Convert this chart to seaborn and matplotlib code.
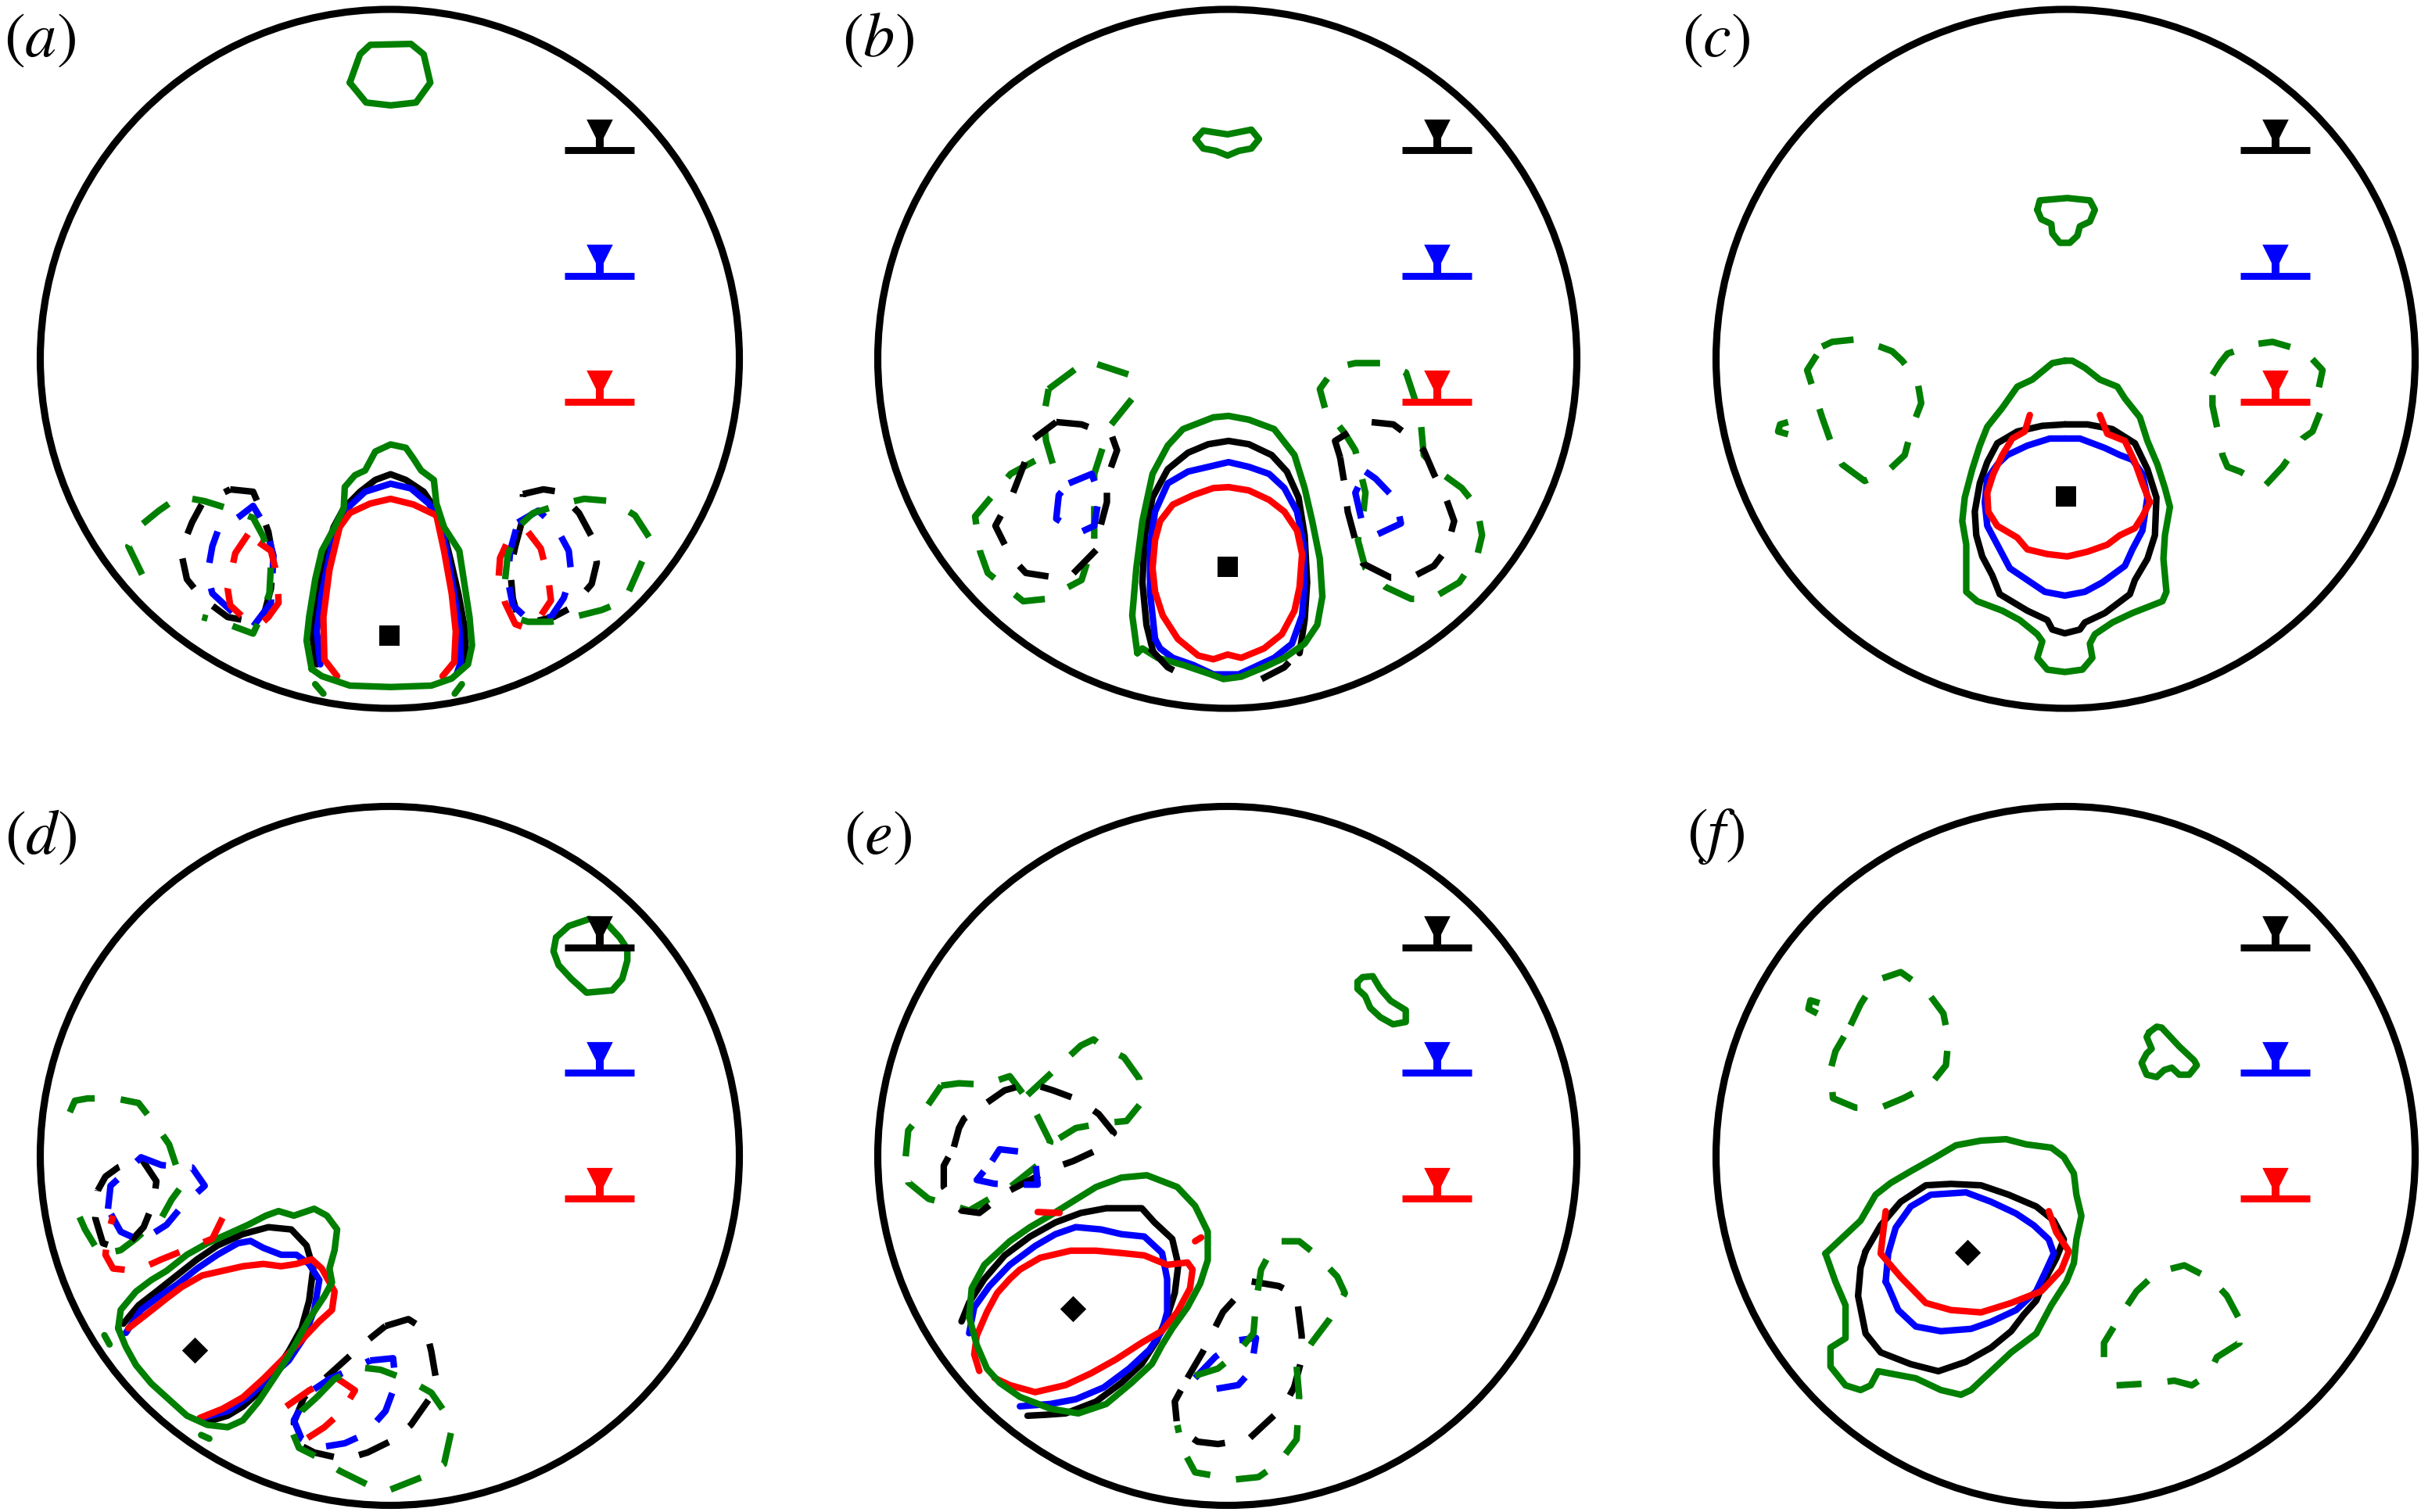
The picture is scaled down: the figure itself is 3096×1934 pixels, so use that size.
import numpy as np
import matplotlib
matplotlib.use("Agg")
import matplotlib.pyplot as plt
import seaborn as sns
from matplotlib.patches import Circle

# ---------------------------------------------------------------------------
# Digitised contour data.  Each panel has a calibration frame (centre x,
# centre y, half-width, half-height of the pipe wall in digitising units);
# contour vertices are given in the same units and converted to y/R, z/R.
# ---------------------------------------------------------------------------
PANEL_LABELS = ["a", "b", "c", "d", "e", "f"]
LEVEL_COLORS = ["black", "blue", "red"]          # water-level symbols
LEVEL_HEIGHTS = [0.597, 0.238, -0.122]            # z/R of the symbols
LEVEL_SPAN = [0.50, 0.70]                         # y/R extent of the symbols
CENTRE_MARKERS = ["s", "s", "s", "D", "D", "D"]
CENTRE_Y = [0.0, 0.0, 0.0, -0.559, -0.441, -0.281]
CENTRE_Z = [-0.793, -0.595, -0.394, -0.557, -0.437, -0.276]

# ---------------- panel (a)
FRAME_A = (758.5, 754, 686.5, 739)
A_BLOB = [(680,170),(700,110),(720,90),(800,88),(825,110),(838,170),(810,212),(760,218),(712,212)]
A_GREEN = [(605,1410),(595,1350),(600,1300),(612,1220),(625,1160),(650,1110),(668,1070),(670,1025),
           (690,1000),(710,990),(730,950),(760,935),(790,942),(805,965),(820,990),(845,1010),(850,1060),
           (865,1110),(895,1160),(905,1230),(915,1300),(920,1360),(912,1400),(880,1430),(840,1445),
           (760,1448),(680,1445),(625,1425)]
A_BLACK = [(615,1400),(605,1330),(615,1250),(632,1170),(648,1110),(668,1070),(700,1035),(730,1010),
           (760,998),(790,1010),(825,1035),(850,1075),(862,1110),(878,1180),(893,1250),(905,1320),
           (908,1390),(895,1415)]
A_BLUE = [(622,1400),(615,1330),(625,1250),(640,1170),(655,1110),(680,1065),(710,1035),(760,1018),
          (800,1028),(835,1060),(858,1100),(872,1170),(885,1250),(895,1320),(898,1395),(890,1420)]
A_RED = [(655,1425),(630,1390),(628,1300),(640,1200),(660,1110),(680,1080),(720,1060),(760,1050),
         (805,1062),(850,1085),(865,1160),(880,1250),(888,1330),(885,1395),(862,1425)]
A_DBLACK_L = [(445,1030),(490,1035),(500,1060),(520,1120),(530,1180),(525,1240),(510,1300),(490,1310),
              (440,1300),(390,1260),(360,1220),(348,1160),(370,1100),(390,1060)]
A_DBLUE_L = [(460,1090),(490,1065),(515,1110),(530,1170),(525,1270),(490,1320),(460,1300),(410,1250),
             (400,1210),(410,1150),(425,1105)]
A_DRED_L = [(480,1125),(455,1165),(440,1240),(445,1275),(480,1310),(505,1315),(520,1300),(540,1270),
            (538,1215),(525,1160),(505,1145)]
A_DGREEN_L = [(272,1210),(245,1150),(265,1110),(305,1075),(345,1045),(395,1055),(440,1070),(490,1090),
              (510,1130),(525,1190),(522,1250),(505,1300),(490,1335),(440,1315),(390,1300)]
A_DBLACK_R = [(1020,1040),(1060,1030),(1090,1035),(1130,1080),(1155,1130),(1165,1185),(1155,1230),
              (1115,1280),(1080,1300),(1040,1310),(1010,1300),(1000,1260),(995,1200),(1005,1150),(1020,1090)]
A_DBLUE_R = [(1010,1100),(1050,1075),(1085,1110),(1110,1160),(1115,1210),(1100,1260),(1075,1300),
             (1030,1305),(1000,1275),(990,1220),(995,1160)]
A_DRED_R = [(1030,1120),(1055,1155),(1070,1220),(1075,1265),(1050,1305),(1030,1325),(1005,1315),
            (985,1270),(972,1220),(975,1175),(990,1140)]
A_DGREEN_R = [(985,1220),(990,1170),(1010,1110),(1040,1080),(1100,1060),(1140,1050),(1195,1055),
              (1240,1085),(1270,1135),(1255,1180),(1220,1265),(1175,1285),(1120,1300),(1075,1310),
              (1030,1310),(1000,1300)]
A_DGREEN_B1 = [(612,1442),(628,1462)]
A_DGREEN_B2 = [(900,1442),(886,1462)]

# ---------------- panel (b)
FRAME_B = (807.5, 756, 689.5, 741)
B_BLOB = [(745,290),(760,272),(808,280),(855,270),(870,290),(855,310),(830,315),(808,325),(785,315),(760,310)]
B_GREEN = [(630,1380),(620,1300),(628,1200),(640,1100),(660,1000),(690,940),(720,905),(780,880),(810,877),
           (850,885),(900,905),(940,960),(960,1030),(975,1100),(990,1180),(995,1260),(985,1320),(960,1360),
           (920,1390),(880,1410),(835,1430),(800,1435),(775,1425),(720,1405),(670,1390),(640,1370)]
B_BLACK = [(663,1385),(648,1320),(640,1230),(645,1130),(660,1050),(690,990),(730,955),(770,937),(810,930),
           (850,937),(895,960),(925,995),(948,1050),(960,1130),(965,1230),(960,1310),(950,1380)]
B_BLUE = [(665,1350),(655,1250),(655,1150),(665,1080),(690,1020),(730,995),(770,985),(810,975),(850,985),
          (890,1000),(920,1030),(945,1080),(958,1150),(960,1230),(955,1300),(935,1360),(900,1390),
          (860,1410),(830,1425),(780,1425),(740,1405),(700,1390),(675,1370)]
B_RED = [(660,1200),(665,1140),(675,1100),(700,1065),(740,1045),(780,1030),(810,1028),(850,1035),
         (890,1055),(920,1080),(945,1120),(955,1170),(950,1240),(940,1290),(915,1340),(880,1370),
         (835,1390),(808,1383),(780,1393),(750,1385),(710,1350),(680,1300),(665,1250)]
B_DBLACK_B1 = [(655,1370),(690,1410),(735,1435)]
B_DBLACK_B2 = [(875,1435),(920,1410),(955,1370)]
B_DGREEN_L = [(455,820),(530,760),(615,790),(620,840),(575,900),(545,1000),(545,1140),(520,1225),
              (450,1265),(405,1270),(335,1210),(320,1165),(310,1090),(380,1000),(440,965),(465,985),
              (450,930),(445,880)]
B_DBLACK_L = [(470,890),(520,895),(580,920),(590,950),(570,1010),(570,1060),(555,1120),(550,1160),
              (500,1215),(470,1220),(410,1210),(380,1175),(350,1110),(385,1040),(410,970),(420,930)]
B_DBLUE_L = [(495,1020),(540,1000),(555,1045),(545,1110),(515,1125),(470,1095),(475,1045)]
B_DGREEN_R = [(1000,860),(990,820),(1020,775),(1060,765),(1120,765),(1160,785),(1180,850),(1190,900),
              (1195,960),(1225,995),(1270,1030),(1300,1070),(1310,1130),(1300,1175),(1265,1230),
              (1210,1265),(1170,1265),(1120,1240),(1080,1200),(1065,1140),(1075,1090),(1080,1040),
              (1060,950),(1040,915)]
B_DBLACK_R = [(1030,965),(1020,930),(1050,910),(1090,890),(1135,895),(1160,915),(1195,950),(1215,1000),
              (1240,1055),(1255,1100),(1240,1160),(1215,1195),(1170,1220),(1130,1220),(1075,1190),
              (1060,1140),(1045,1080),(1040,1030)]
B_DBLUE_R = [(1080,995),(1100,1010),(1140,1055),(1150,1105),(1100,1130),(1075,1110),(1060,1040)]

# ---------------- panel (c)
FRAME_C = (866.5, 756, 698.5, 741)
C_BLOB = [(810,440),(815,420),(870,415),(915,420),(925,440),(915,465),(895,475),(890,495),(875,510),
          (855,510),(840,490),(838,470),(818,460)]
C_GREEN = [(865,760),(840,765),(800,800),(770,815),(740,860),(710,900),(695,940),(680,990),(665,1050),
           (660,1100),(668,1150),(668,1250),(690,1270),(740,1290),(775,1310),(810,1340),(820,1355),
           (810,1390),(830,1415),(865,1420),(900,1415),(920,1390),(915,1360),(925,1340),(960,1315),
           (1000,1295),(1060,1270),(1068,1250),(1062,1180),(1065,1130),(1075,1070),(1065,1030),
           (1050,980),(1030,930),(1015,880),(985,840),(970,815),(935,800),(905,775),(880,760)]
C_BLACK = [(865,895),(820,898),(770,910),(730,935),(710,975),(695,1020),(685,1080),(688,1130),(700,1175),
           (720,1215),(735,1255),(790,1290),(830,1310),(840,1330),(865,1338),(895,1330),(905,1315),
           (945,1295),(995,1255),(1005,1225),(1030,1180),(1045,1130),(1048,1050),(1030,990),(1005,935),
           (960,905),(910,895)]
C_BLUE = [(865,925),(835,925),(790,940),(750,960),(730,980),(710,1010),(705,1060),(710,1110),(730,1150),
          (755,1200),(790,1225),(825,1250),(865,1258),(905,1250),(940,1230),(985,1195),(1000,1160),
          (1020,1120),(1030,1050),(1020,1000),(1000,970),(975,960),(945,945),(895,925)]
C_RED = [(795,875),(785,910),(760,925),(740,960),(722,1000),(710,1040),(712,1080),(730,1110),(770,1135),
         (790,1160),(830,1170),(870,1175),(910,1165),(950,1150),(975,1130),(1005,1115),(1020,1090),
         (1035,1060),(1020,1020),(1005,975),(985,930),(950,915),(935,875)]
C_DGREEN_L = [(380,730),(400,720),(445,715),(495,730),(520,740),(540,760),(570,800),(578,850),(560,900),
              (545,960),(515,990),(465,1015),(420,980),(400,940),(380,880),(365,830),(350,780)]
C_DGREEN_HOOK = [(312,890),(296,895),(292,910),(312,916)]
C_DGREEN_R = [(1160,790),(1175,765),(1190,745),(1245,725),(1280,720),(1345,740),(1380,780),(1370,830),
              (1375,870),(1360,910),(1340,925),(1330,940),(1300,985),(1265,1025),(1215,995),(1190,985),
              (1180,960),(1170,905),(1160,855)]

# ---------------- panel (d)
FRAME_D = (758.5, 805, 686.5, 760)
D_BLOB = [(1085,330),(1110,305),(1150,290),(1185,300),(1210,330),(1225,355),(1225,380),(1215,420),
          (1195,445),(1145,450),(1115,420),(1090,390),(1080,360)]
D_GREEN = [(225,1180),(230,1140),(260,1100),(290,1075),(320,1055),(360,1020),(400,995),(440,975),
           (480,955),(515,935),(540,925),(570,935),(610,920),(635,935),(655,965),(650,1010),(640,1050),
           (645,1080),(630,1110),(600,1160),(580,1200),(560,1240),(530,1290),(500,1340),(470,1380),
           (440,1395),(400,1390),(360,1370),(330,1340),(290,1300),(260,1260),(240,1220)]
D_BLACK = [(235,1170),(265,1130),(300,1100),(340,1065),(380,1030),(420,1000),(470,975),(520,960),
           (565,965),(595,1000),(608,1050),(600,1120),(585,1180),(560,1230),(530,1280),(500,1320),
           (470,1350),(440,1370),(410,1380),(385,1378)]
D_BLUE = [(240,1190),(270,1140),(300,1115),(340,1085),(380,1050),(420,1020),(460,995),(485,990),(510,1005),
          (545,1020),(575,1020),(600,1040),(620,1075),(610,1140),(590,1200),(560,1250),(520,1290),
          (480,1330),(440,1360),(390,1375)]
D_RED = [(245,1180),(280,1150),(320,1115),(350,1090),(390,1065),(430,1055),(470,1045),(510,1040),
         (545,1045),(575,1040),(605,1030),(625,1050),(650,1100),(645,1140),(620,1165),(590,1200),
         (555,1240),(510,1290),(470,1330),(430,1355),(385,1375)]
D_DGREEN_UL = [(130,710),(140,685),(165,680),(220,680),(265,690),(300,740),(325,780),(340,830),(350,870),
               (330,900),(310,940),(280,965),(260,985),(230,1010),(190,1020),(160,965),(140,915)]
D_DBLACK_UL = [(185,880),(200,850),(225,830),(270,810),(300,860),(295,905),(275,960),(250,990),(225,1005),
               (195,995),(180,940)]
D_DBLUE_UL = [(205,920),(210,870),(230,850),(270,808),(310,825),(370,830),(395,870),(350,915),(320,955),
              (270,990),(230,970)]
D_DRED_UL = [(430,940),(410,985),(355,1010),(310,1030),(260,1055),(215,1050),(200,1020),(205,975),(215,935)]
D_DBLACK_LR = [(750,1175),(795,1160),(830,1185),(840,1230),(850,1295),(835,1335),(800,1390),(770,1420),
               (715,1450),(670,1465),(610,1450),(575,1430),(570,1385),(590,1330),(620,1300),(670,1250),
               (705,1215)]
D_DBLUE_LR = [(720,1250),(765,1245),(770,1300),(750,1360),(710,1410),(670,1430),(615,1440),(585,1420),
              (570,1380),(600,1320),(640,1290),(670,1275)]
D_DRED_LR = [(555,1350),(600,1315),(650,1285),(690,1315),(665,1360),(630,1395),(595,1420),(570,1410)]
D_DGREEN_LR = [(615,1330),(650,1290),(700,1265),(740,1270),(800,1295),(840,1320),(865,1360),(880,1400),
               (865,1475),(830,1500),(750,1535),(715,1520),(660,1490),(625,1465),(580,1440),(565,1400),
               (585,1360)]
D_DGREEN_B1 = [(198,1195),(208,1215)]
D_DGREEN_B2 = [(388,1412),(404,1420)]

# ---------------- panel (e)
FRAME_E = (808.5, 819, 688.5, 741)
E_BLOB = [(1065,450),(1075,440),(1095,438),(1110,465),(1130,490),(1160,510),(1160,535),(1135,540),
          (1110,525),(1090,505),(1080,480),(1065,465)]
E_GREEN = [(300,1160),(305,1100),(330,1050),(380,1000),(420,970),(460,945),(505,915),(550,885),(600,865),
           (650,860),(710,885),(745,925),(770,980),(770,1040),(755,1090),(730,1140),(700,1185),(680,1220),
           (660,1260),(620,1300),(570,1345),(515,1365),(460,1355),(400,1330),(360,1300),(335,1270),(315,1220)]
E_BLACK = [(285,1170),(300,1130),(330,1080),(370,1030),(420,990),(470,960),(520,940),(570,930),(640,930),
           (665,960),(700,995),(712,1050),(705,1110),(690,1160),(670,1210),(640,1260),(600,1300),
           (550,1340),(490,1365),(450,1368),(415,1370)]
E_BLUE = [(300,1195),(310,1140),(340,1095),(380,1050),(430,1010),(470,985),(510,970),(560,975),(600,985),
          (645,990),(680,1025),(690,1080),(690,1150),(680,1190),(655,1230),(615,1270),(565,1310),
          (510,1335),(460,1345),(400,1350)]
E_RED = [(320,1275),(310,1240),(315,1200),(335,1150),(355,1110),(380,1080),(400,1060),(440,1035),
         (500,1020),(550,1020),(600,1025),(645,1030),(690,1050),(730,1045),(740,1060),(735,1100),
         (710,1150),(680,1190),(640,1215),(590,1250),(540,1280),(490,1305),(430,1320),(380,1305),(350,1290)]
E_RED_BIT1 = [(435,938),(478,940)]
E_RED_BIT2 = [(745,1000),(757,992)]
E_DGREEN_L = [(245,670),(280,665),(330,668),(380,650),(415,700),(430,725),(460,790),(445,830),(410,860),
              (375,890),(340,910),(300,935),(270,925),(220,910),(180,875),(175,820),(180,765),(210,725)]
E_DGREEN_U = [(415,690),(445,660),(480,625),(520,585),(545,572),(560,585),(605,610),(635,655),(640,705),
              (610,745),(560,750),(510,760),(465,790)]
E_DBLACK_UL = [(270,800),(280,760),(290,740),(330,710),(370,680),(420,665),(465,680),(515,700),(555,730),
               (585,770),(555,805),(505,830),(465,845),(420,870),(375,895),(320,940),(285,935),(250,885),
               (250,840)]
E_DBLUE_UL = [(345,830),(360,805),(400,810),(430,825),(435,880),(390,880),(350,878),(315,870)]
E_DBLACK_LR = [(730,1290),(760,1235),(800,1150),(855,1085),(910,1095),(945,1115),(955,1200),(955,1250),
               (940,1310),(920,1350),(880,1390),(850,1420),(790,1430),(750,1425),(710,1395),(705,1340)]
E_DBLUE_LR = [(745,1290),(785,1245),(830,1210),(865,1205),(855,1275),(830,1305),(775,1315),(745,1300)]
E_DGREEN_LR = [(745,1285),(790,1270),(830,1235),(860,1195),(865,1130),(875,1060),(905,1000),(950,1000),
               (985,1030),(1025,1075),(1040,1110),(1010,1165),(975,1215),(945,1265),(950,1330),
               (945,1420),(910,1470),(870,1500),(825,1505),(745,1490),(720,1440),(710,1390)]

# ---------------- panel (f)
FRAME_F = (868.5, 822.5, 696.5, 742.5)
F_BLOB = [(1035,560),(1050,548),(1060,550),(1095,590),(1125,620),(1130,630),(1115,650),(1095,650),
          (1080,635),(1065,640),(1050,655),(1030,650),(1020,625),(1030,605),(1040,595),(1030,570)]
F_GREEN = [(390,1030),(420,1000),(460,960),(490,905),(520,880),(560,855),(610,825),(650,800),(700,790),
           (750,787),(790,798),(840,805),(865,825),(885,860),(890,905),(900,950),(890,1000),(885,1050),
           (870,1090),(840,1140),(810,1200),(760,1240),(720,1280),(680,1320),(660,1330),(620,1320),
           (570,1295),(520,1285),(495,1280),(480,1310),(460,1320),(430,1310),(400,1270),(400,1230),
           (430,1210),(430,1140),(410,1090)]
F_BLACK = [(470,1025),(500,970),(540,920),(590,885),(640,882),(700,885),(755,905),(810,930),(845,960),
           (865,1000),(850,1040),(830,1080),(810,1130),(785,1160),(760,1195),(720,1230),(670,1260),
           (615,1280),(560,1265),(500,1240),(470,1200),(455,1120),(460,1060)]
F_BLUE = [(510,1090),(515,1030),(530,975),(560,930),(600,905),(670,900),(720,920),(770,945),(805,970),
          (835,1000),(845,1030),(830,1065),(810,1110),(770,1150),(720,1175),(680,1190),(620,1195),
          (570,1185),(535,1150),(515,1100)]
F_RED = [(510,940),(500,1030),(540,1080),(590,1135),(640,1150),(700,1155),(760,1135),(820,1110),
         (860,1065),(875,1025),(850,985),(835,940)]
F_DGREEN_UL = [(440,545),(460,500),(490,450),(540,432),(590,470),(625,520),(635,575),(630,630),(600,670),
               (545,700),(500,720),(450,720),(405,700),(400,640),(410,600)]
F_DGREEN_HOOK = [(378,498),(360,492),(356,510),(374,520)]
F_DGREEN_LR = [(945,1250),(945,1220),(985,1150),(1010,1110),(1050,1070),(1105,1055),(1160,1085),
               (1190,1120),(1215,1170),(1215,1220),(1170,1250),(1155,1285),(1120,1310),(1085,1300),
               (1050,1305),(970,1310)]

# (data, colour, dashed, closed)
PANEL_A = [(A_BLACK,"black",False,False),(A_BLUE,"blue",False,False),(A_RED,"red",False,False),
           (A_GREEN,"green",False,True),(A_BLOB,"green",False,True),
           (A_DBLACK_L,"black",True,True),(A_DBLUE_L,"blue",True,True),(A_DRED_L,"red",True,True),
           (A_DGREEN_L,"green",True,False),(A_DBLACK_R,"black",True,True),(A_DBLUE_R,"blue",True,True),
           (A_DRED_R,"red",True,True),(A_DGREEN_R,"green",True,False),
           (A_DGREEN_B1,"green",False,False),(A_DGREEN_B2,"green",False,False)]
PANEL_B = [(B_BLACK,"black",False,False),(B_BLUE,"blue",False,True),(B_RED,"red",False,True),
           (B_GREEN,"green",False,True),(B_BLOB,"green",False,True),
           (B_DBLACK_B1,"black",True,False),(B_DBLACK_B2,"black",True,False),
           (B_DGREEN_L,"green",True,True),(B_DBLACK_L,"black",True,True),(B_DBLUE_L,"blue",True,True),
           (B_DGREEN_R,"green",True,True),(B_DBLACK_R,"black",True,True),(B_DBLUE_R,"blue",True,True)]
PANEL_C = [(C_BLACK,"black",False,True),(C_BLUE,"blue",False,True),(C_RED,"red",False,False),
           (C_GREEN,"green",False,True),(C_BLOB,"green",False,True),
           (C_DGREEN_L,"green",True,True),(C_DGREEN_HOOK,"green",True,False),(C_DGREEN_R,"green",True,True)]
PANEL_D = [(D_BLACK,"black",False,False),(D_BLUE,"blue",False,False),(D_RED,"red",False,False),
           (D_GREEN,"green",False,True),(D_BLOB,"green",False,True),
           (D_DGREEN_UL,"green",True,False),(D_DBLACK_UL,"black",True,True),(D_DBLUE_UL,"blue",True,True),
           (D_DRED_UL,"red",True,False),(D_DBLACK_LR,"black",True,True),(D_DBLUE_LR,"blue",True,True),
           (D_DRED_LR,"red",True,False),(D_DGREEN_LR,"green",True,True),
           (D_DGREEN_B1,"green",False,False),(D_DGREEN_B2,"green",False,False)]
PANEL_E = [(E_BLACK,"black",False,False),(E_BLUE,"blue",False,False),(E_RED,"red",False,False),
           (E_GREEN,"green",False,True),(E_BLOB,"green",False,True),
           (E_RED_BIT1,"red",False,False),(E_RED_BIT2,"red",False,False),
           (E_DGREEN_L,"green",True,True),(E_DGREEN_U,"green",True,False),(E_DBLACK_UL,"black",True,True),
           (E_DBLUE_UL,"blue",True,True),(E_DBLACK_LR,"black",True,True),(E_DBLUE_LR,"blue",True,False),
           (E_DGREEN_LR,"green",True,False)]
PANEL_F = [(F_BLACK,"black",False,True),(F_BLUE,"blue",False,True),(F_RED,"red",False,False),
           (F_GREEN,"green",False,True),(F_BLOB,"green",False,True),
           (F_DGREEN_UL,"green",True,True),(F_DGREEN_HOOK,"green",True,False),
           (F_DGREEN_LR,"green",True,False)]

PANELS = [PANEL_A, PANEL_B, PANEL_C, PANEL_D, PANEL_E, PANEL_F]
FRAMES = [FRAME_A, FRAME_B, FRAME_C, FRAME_D, FRAME_E, FRAME_F]

COLOR_MAP = {"black": "#000000", "blue": "#0000ff", "red": "#ff0000", "green": "#007f00"}

# ---------------------------------------------------------------------------
sns.set_theme(style="white")
plt.rcParams["mathtext.fontset"] = "stix"
plt.rcParams["font.family"] = ["DejaVu Sans"]

W, H, DPI = 3096, 1934, 200
fig = plt.figure(figsize=(W / DPI, H / DPI), dpi=DPI)
fig.patch.set_facecolor("white")

COL_CX = [498.5, 1569.5, 2641.5]   # px
ROW_CY = [459.0, 1478.5]           # px from top
RAD = 447.0
LIM = 1.12
LW = 3.0
DASH = (0, (5.0, 4.0))


def to_norm(pts, frame, closed):
    cx, cy, hx, hy = frame
    arr = np.asarray(pts, dtype=float)
    if closed:
        arr = np.vstack([arr, arr[:1]])
    return (arr[:, 0] - cx) / hx, (cy - arr[:, 1]) / hy


for k in range(6):
    r, c = divmod(k, 3)
    cx, cy = COL_CX[c], ROW_CY[r]
    half = LIM * RAD
    ax = fig.add_axes([(cx - half) / W, (H - cy - half) / H, 2 * half / W, 2 * half / H])
    ax.set_xlim(-LIM, LIM)
    ax.set_ylim(-LIM, LIM)
    ax.set_axis_off()
    ax.patch.set_alpha(0)

    ax.add_patch(Circle((0, 0), 1.0, fill=False, ec="black", lw=3.3, zorder=5))

    for data, col, dashed, closed in PANELS[k]:
        u, v = to_norm(data, FRAMES[k], closed)
        sns.lineplot(x=u, y=v, sort=False, estimator=None, ax=ax, color=COLOR_MAP[col],
                     lw=LW, linestyle=DASH if dashed else "-", legend=False, zorder=3,
                     solid_joinstyle="round", dash_capstyle="butt")

    # water-level symbols
    for col, hz in zip(LEVEL_COLORS, LEVEL_HEIGHTS):
        sns.lineplot(x=LEVEL_SPAN, y=[hz, hz], ax=ax, color=COLOR_MAP[col], lw=3.2,
                     legend=False, zorder=4, solid_capstyle="butt")
        xm = 0.5 * (LEVEL_SPAN[0] + LEVEL_SPAN[1])
        ax.plot([xm, xm], [hz, hz + 0.04], color=COLOR_MAP[col], lw=3.6,
                solid_capstyle="butt", zorder=4)
        ax.plot([xm], [hz + 0.052], marker="v", ms=10.5, color=COLOR_MAP[col],
                mec=COLOR_MAP[col], mew=0.8, zorder=4)

    # vortex centre marker
    sns.scatterplot(x=[CENTRE_Y[k]], y=[CENTRE_Z[k]], marker=CENTRE_MARKERS[k],
                    s=(9.5 if CENTRE_MARKERS[k] == "s" else 8.5) ** 2, color="black",
                    linewidth=0, ax=ax, legend=False, zorder=6)

    ax.text(-1.0, 0.915, "$(" + PANEL_LABELS[k] + ")$", fontsize=29,
            ha="center", va="center", color="black")

fig.savefig("out.png", dpi=DPI, facecolor="white")
